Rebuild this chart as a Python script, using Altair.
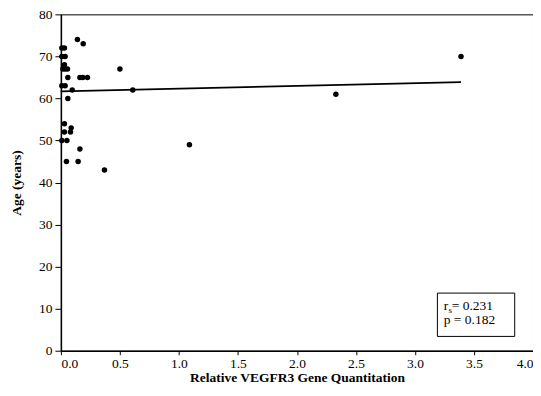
import altair as alt
import pandas as pd

# Scatter data: Relative VEGFR3 gene quantitation vs age
vegfr3 = [0.14, 0.189, 0.008, 0.03, 0.008, 0.036, 0.03, 0.017, 0.036, 0.056,
          0.50, 0.059, 0.161, 0.186, 0.225, 0.008, 0.036, 0.096, 0.609, 0.059,
          0.03, 0.087, 0.03, 0.081, 0.008, 0.051, 1.089, 0.161, 0.047, 0.146,
          0.369, 2.33, 3.39]
age = [74, 73, 72, 72, 70, 70, 68, 67, 67, 67,
       67, 65, 65, 65, 65, 63, 63, 62, 62, 60,
       54, 53, 52, 52, 50, 50, 49, 48, 45, 45,
       43, 61, 70]

# Trend line endpoints
trend_x = [0.0, 3.39]
trend_y = [61.7, 63.9]

# Annotation box (data coordinates)
box_x = [3.19]
box_x2 = [3.845]
box_y = [3.4]
box_y2 = [13.7]

# Annotation texts
ann_text = ["r", "s", "= 0.231", "p = 0.182"]
ann_x = [3.244, 3.283, 3.312, 3.244]
ann_y = [9.74, 9.0, 9.74, 6.41]
ann_size = [13.5, 9, 13.5, 13.5]

FONT = "Liberation Serif, Times New Roman, serif"

pts = pd.DataFrame({"x": vegfr3, "y": age})
trend = pd.DataFrame({"x": trend_x, "y": trend_y})
box = pd.DataFrame({"x": box_x, "x2": box_x2, "y": box_y, "y2": box_y2})
ann = pd.DataFrame({"x": ann_x, "y": ann_y, "t": ann_text, "s": ann_size})

xscale = alt.Scale(domain=[0, 4], nice=False, zero=False)
yscale = alt.Scale(domain=[0, 80], nice=False)

xaxis = alt.Axis(title="Relative VEGFR3 Gene Quantitation",
                 values=[0, 0.5, 1, 1.5, 2, 2.5, 3, 3.5, 4], format=".1f",
                 tickSize=4, labelPadding=2, titlePadding=0)
yaxis = alt.Axis(title="Age (years)", values=list(range(0, 81, 10)),
                 tickSize=6, labelPadding=3, titlePadding=15,
                 titleFontSize=13.5)

points = alt.Chart(pts).mark_circle(color="black", opacity=1, size=30).encode(
    x=alt.X("x:Q", scale=xscale, axis=xaxis),
    y=alt.Y("y:Q", scale=yscale, axis=yaxis),
)

line = alt.Chart(trend).mark_line(color="black", strokeWidth=1.8).encode(
    x=alt.X("x:Q", scale=xscale),
    y=alt.Y("y:Q", scale=yscale),
)

rect = alt.Chart(box).mark_rect(fill="white", stroke="black", strokeWidth=1).encode(
    x=alt.X("x:Q", scale=xscale), x2="x2:Q",
    y=alt.Y("y:Q", scale=yscale), y2="y2:Q",
)

texts = alt.Chart(ann).mark_text(font=FONT, color="black", align="left",
                                 baseline="alphabetic").encode(
    x=alt.X("x:Q", scale=xscale),
    y=alt.Y("y:Q", scale=yscale),
    text="t:N",
    size=alt.Size("s:Q", scale=None, legend=None),
)

chart = alt.layer(line, points, rect, texts).properties(
    width=473, height=337,
    autosize=alt.AutoSizeParams(type="none"),
    padding={"left": 53, "top": 6, "right": 0, "bottom": 37},
).configure_view(
    stroke="black", strokeWidth=1
).configure_axis(
    grid=False, domainColor="black", domainWidth=1.5,
    tickColor="black", tickWidth=1,
    labelFont=FONT, labelFontSize=13.5, labelColor="black",
    titleFont=FONT, titleFontSize=13.5, titleFontWeight="bold", titleColor="black",
)

chart.save("out.html", embed_options={"renderer": "svg", "actions": False})
